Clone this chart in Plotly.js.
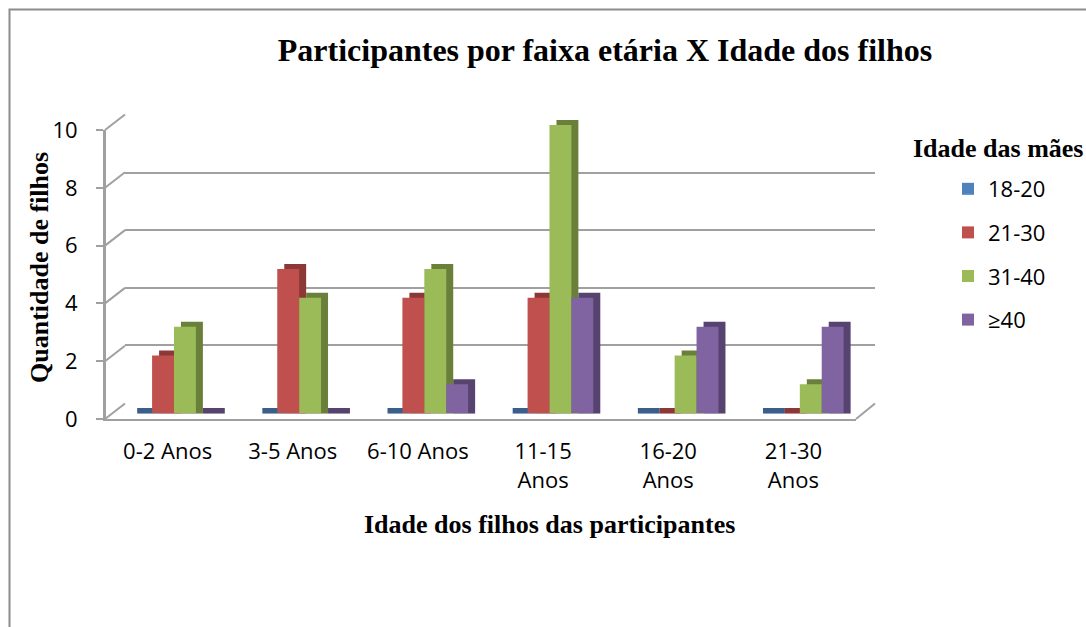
<!DOCTYPE html>
<html><head><meta charset="utf-8">
<script src="https://cdn.plot.ly/plotly-3.0.1.min.js"></script>
<style>html,body{margin:0;padding:0;background:#fff}</style>
</head><body><div id="chart" style="width:1086px;height:627px"></div>
<script>
// ---- data ----
const categories = ['0-2 Anos','3-5 Anos','6-10 Anos','11-15<br>Anos','16-20<br>Anos','21-30<br>Anos'];
const seriesNames = ['18-20','21-30','31-40','≥40'];
const v18_20 = [0,0,0,0,0,0];
const v21_30 = [2,5,4,4,0,0];
const v31_40 = [3,4,5,10,2,1];
const v40plus = [0,0,1,4,3,3];
const yTicks = [0,2,4,6,8,10];
const chartTitle = 'Participantes por faixa etária X Idade dos filhos';
const xTitle = 'Idade dos filhos das participantes';
const yTitle = 'Quantidade de filhos';
const legendTitle = 'Idade das mães';

// ---- styles ----
const frontColors = ['#4F81BD','#C0504D','#9BBB59','#8064A2'];
const sideColors  = ['#3A5F8B','#8C3836','#6A803A','#56436F'];
const W = 1086, H = 627;
const px = x => x / W;
const py = y => 1 - y / H;
const grid = '#a0a0a0';
const sans = 'Open Sans';
const serif = 'Liberation Serif';
const depth = 0.2; // visual depth of the 3D floor slab (axis units)

const seriesValues = [v18_20, v21_30, v31_40, v40plus];

const traces = [];
// back wall helper trace (invisible)
traces.push({type:'scatter', x: categories, y: categories.map(()=>null), xaxis:'x', yaxis:'y',
  mode:'markers', showlegend:false, hoverinfo:'skip'});
// shadow (depth) bars: drawn from the floor slab up to the value
seriesValues.forEach((vals, i) => traces.push({
  type:'bar', x: categories, y: vals.map(v => v + depth), base: -depth, xaxis:'x2', yaxis:'y2', name: seriesNames[i],
  marker:{color: sideColors[i], line:{width:0}}, showlegend:false, hoverinfo:'skip'
}));
// front bars
seriesValues.forEach((vals, i) => traces.push({
  type:'bar', x: categories, y: vals, xaxis:'x3', yaxis:'y3', name: seriesNames[i],
  legendgroup: 'g' + i,
  marker:{color: frontColors[i], line:{width:0}}
}));
// axis frame helper trace
traces.push({type:'scatter', x: categories, y: categories.map(()=>null), xaxis:'x4', yaxis:'y4',
  mode:'markers', showlegend:false, hoverinfo:'skip'});

// front axis mapping for decorative connectors
const fBottom = 419, fTop = 130;
const fy = v => py(fBottom - (fBottom - fTop) * v / 10);
const shapes = yTicks.map(t => ({
  type:'line', xref:'paper', yref:'paper',
  x0: px(105), y0: fy(t), x1: px(125), y1: fy(t) + 15.5 / H,
  line:{color: grid, width: 2}
}));
shapes.push({type:'line', xref:'paper', yref:'paper', x0: px(856), y0: fy(0), x1: px(875), y1: fy(0) + 15.5 / H,
  line:{color: grid, width: 2}});
// front y axis line
shapes.push({type:'line', xref:'paper', yref:'paper', x0: px(105), y0: fy(0), x1: px(105), y1: fy(10),
  line:{color: grid, width: 2}});
// outer chart frame
shapes.push({type:'path', xref:'paper', yref:'paper',
  path: `M ${px(9.5)} 0 L ${px(9.5)} ${py(9.5)} L 1 ${py(9.5)}`,
  line:{color:'#8c8c8c', width:2}});

const hiddenX = {type:'category', range:[-0.5,5.5], visible:false, fixedrange:true};

const layout = {
  width: W, height: H,
  margin:{l:0, r:0, t:0, b:0},
  paper_bgcolor:'#ffffff', plot_bgcolor:'rgba(0,0,0,0)',
  barmode:'group', bargap:0.3, bargroupgap:0,
  title:{text:'<b>' + chartTitle + '</b>', font:{family:serif, size:32, color:'#000'},
    x: px(605), xanchor:'center', xref:'paper', y: py(50), yanchor:'middle', yref:'paper'},
  // back wall
  xaxis:{...hiddenX, domain:[px(125), px(875)], anchor:'y'},
  yaxis:{domain:[py(403), py(115)], range:[-0.02,10.02], anchor:'x', tickvals: yTicks,
    showgrid:true, gridcolor:grid, gridwidth:2, zeroline:false,
    showline:false, showticklabels:false, ticks:''},
  // shadow bars
  xaxis2:{...hiddenX, domain:[px(118.4), px(869.4)], anchor:'y2'},
  yaxis2:{domain:[py(413.8), py(105.6)], range:[-0.2,10.5], anchor:'x2', visible:false},
  // front bars
  xaxis3:{...hiddenX, domain:[px(111.4), px(862.4)], anchor:'y3'},
  yaxis3:{domain:[py(418.8), py(110.6)], range:[-0.2,10.5], anchor:'x3', visible:false},
  // axis frame with labels
  xaxis4:{type:'category', range:[-0.5,5.5], domain:[px(105), px(856)], anchor:'y4',
    showline:true, linecolor:grid, linewidth:2, ticks:'', showgrid:false,
    tickvals: categories, ticktext: categories, tickangle:0,
    tickfont:{family:sans, size:22, color:'#000'}, ticklabelstandoff:12},
  yaxis4:{range:[0,10], domain:[py(fBottom), py(fTop)], anchor:'x4',
    showline:true, linecolor:grid, linewidth:2, ticks:'outside', ticklen:7, tickwidth:2, tickcolor:grid,
    tickvals: yTicks, showgrid:false, zeroline:false,
    tickfont:{family:sans, size:22, color:'#000'}, ticklabelstandoff:14},
  showlegend:true,
  legend:{x: px(948), xanchor:'left', y: py(168), yanchor:'top', traceorder:'grouped',
    tracegroupgap:12, font:{family:sans, size:22, color:'#000'}, bgcolor:'rgba(0,0,0,0)'},
  annotations:[
    {text:'<b>' + yTitle + '</b>', xref:'paper', yref:'paper', x: px(40), y: py(268),
     xanchor:'center', yanchor:'middle', textangle:-90, showarrow:false,
     font:{family:serif, size:26, color:'#000'}},
    {text:'<b>' + xTitle + '</b>', xref:'paper', yref:'paper', x: px(549), y: py(524),
     xanchor:'center', yanchor:'middle', showarrow:false,
     font:{family:serif, size:26, color:'#000'}},
    {text:'<b>' + legendTitle + '</b>', xref:'paper', yref:'paper', x: px(911), y: py(148),
     xanchor:'left', yanchor:'middle', showarrow:false,
     font:{family:serif, size:26, color:'#000'}}
  ],
  shapes: shapes
};

Plotly.newPlot('chart', traces, layout, {displayModeBar:false, staticPlot:true});
</script>
</body></html>
